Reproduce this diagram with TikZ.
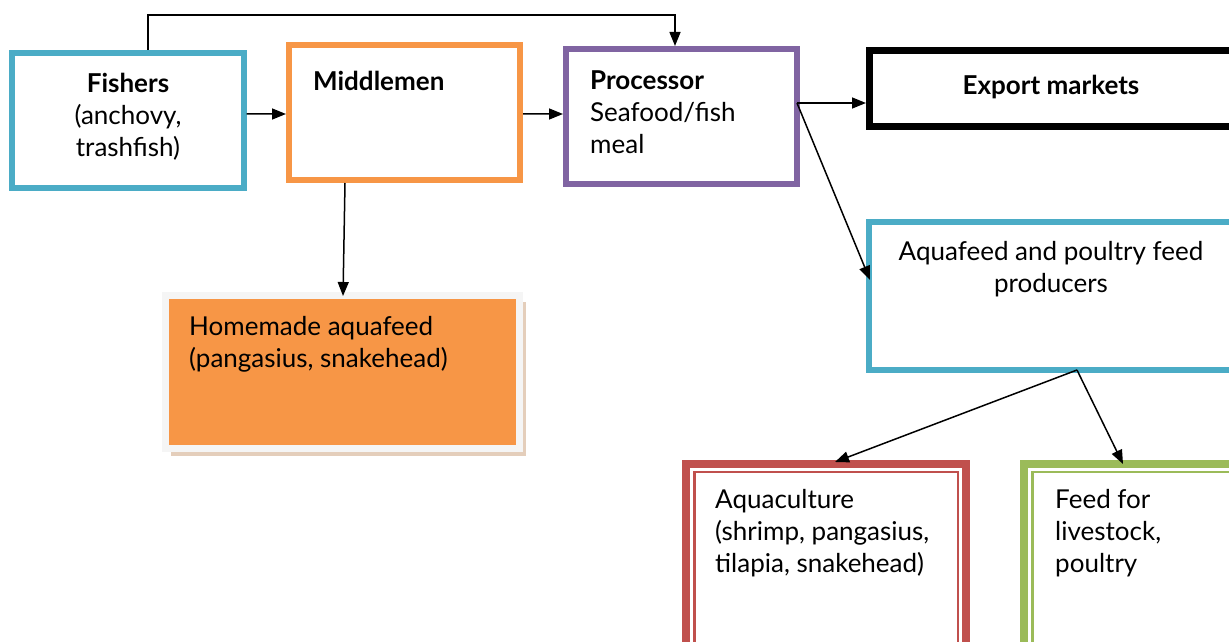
\documentclass[tikz,border=0pt]{standalone}
\usepackage{fontspec}
\setmainfont{Lato}
\usetikzlibrary{arrows.meta,shadows}
\definecolor{boxblue}{HTML}{4BACC6}
\definecolor{boxorange}{HTML}{F79646}
\definecolor{boxpurple}{HTML}{8064A2}
\definecolor{boxred}{HTML}{C0504D}
\definecolor{boxgreen}{HTML}{9BBB59}
\definecolor{shadowtan}{HTML}{D8B99E}
\begin{document}
\begin{tikzpicture} [x=1bp,y=-1bp]
    \tikzset{box/.style = {rectangle,draw,line width=6bp,inner sep=0pt,minimum width=231bp,minimum height=135bp}}
    \tikzset{dblbox/.style = {rectangle,draw=#1,line width=8bp,minimum width=280bp,minimum height=196bp}}
    \tikzset{dblinner/.style = {rectangle,draw=#1,line width=2.5bp,minimum width=263.5bp,minimum height=180bp}}
    \tikzset{txt/.style = {inner sep=0pt,font=\fontsize{26bp}{32bp}\selectfont}}
    \tikzset{arr/.style = {-{Triangle[length=14bp,width=11bp]},line width=1.5bp}}
    \useasboundingbox (0,0) rectangle (1229,642);
    \clip (0,0) rectangle (1229,642);
    % boxes in the top row
    \node[box,draw=boxblue] (fishers) at (128,120.5) {};
    \node[box,draw=boxorange] (middlemen) at (404.5,112.5) {};
    \node[box,draw=boxpurple] (processor) at (681.5,116.5) {};
    \node[box,draw=black,line width=7bp,minimum width=363bp,minimum height=76bp] (export) at (1051,88.5) {};
    % boxes further down
    \node[box,draw=boxblue,minimum width=364bp,minimum height=148bp] (aquafeed) at (1051,296) {};
    \node[draw=gray!8,line width=7bp,fill=boxorange,minimum width=354bp,minimum height=153bp,
          drop shadow={fill=shadowtan,shadow xshift=6bp,shadow yshift=-7bp,opacity=0.7}] (homemade) at (342.5,372) {};
    \node[dblbox=boxred] (aquaculture) at (826,562) {};
    \node[dblinner=boxred] (aquaculture-in) at (aquaculture.center) {};
    \node[dblbox=boxgreen] (feed) at (1164,562) {};
    \node[dblinner=boxgreen] (feed-in) at (feed.center) {};
    % texts
    \node[txt,anchor=north,align=center] (fishers-t) at (128,73) {\textbf{Fishers}\\(anchovy,\\trashfish)};
    \node[txt,anchor=north west] (middlemen-t) at (313,71) {\textbf{Middlemen}};
    \node[txt,anchor=north west,align=left] (processor-t) at (590,71) {\textbf{Processor}\\Seafood/fish\\meal};
    \node[txt,anchor=north] (export-t) at (1051,75) {\textbf{Export markets}};
    \node[txt,anchor=north,align=center] (aquafeed-t) at (1051,241) {Aquafeed and poultry feed\\producers};
    \node[txt,anchor=north west,align=left] (homemade-t) at (189,316) {Homemade aquafeed\\(pangasius, snakehead)};
    \node[txt,anchor=north west,align=left] (aquaculture-t) at (715,489) {Aquaculture\\(shrimp, pangasius,\\tilapia, snakehead)};
    \node[txt,anchor=north west,align=left] (feed-t) at (1055,489) {Feed for\\livestock,\\poultry};
    % arrows
    \coordinate (procout) at ([xshift=-3bp,yshift=13.5bp]processor.east);
    \coordinate (aqfout) at ([xshift=26bp,yshift=3bp]aquafeed.south);
    \draw[arr] ([yshift=6.5bp]fishers.east) -- ([yshift=-1.5bp]middlemen.west);
    \draw[arr] ([yshift=-1.5bp]middlemen.east) -- ([yshift=2.5bp]processor.west);
    \draw[arr] ([xshift=20bp]fishers.north) -- ++(0,-35) -| ([xshift=-6.5bp]processor.north);
    \draw[arr] (procout) -- (procout -| export.west);
    \draw[arr] (procout) -- ([xshift=4bp,yshift=16bp]aquafeed.west);
    \draw[arr] ([xshift=-59.5bp]middlemen.south) -- ([xshift=0.5bp,yshift=-4bp]homemade.north);
    \draw[arr] (aqfout) -- ([xshift=9bp,yshift=-2bp]aquaculture.north);
    \draw[arr] (aqfout) -- ([xshift=-41bp,yshift=-4bp]feed.north);
\end{tikzpicture}
\end{document}
